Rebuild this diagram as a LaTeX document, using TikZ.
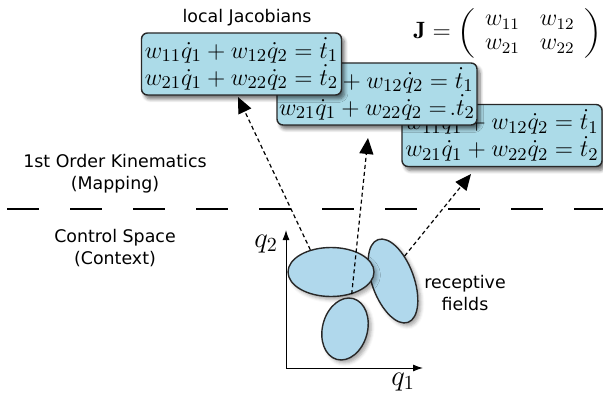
\documentclass[tikz,border=0pt]{standalone}
\usepackage{amsmath}
\usepackage{graphicx}
\usepackage{fontspec}
\setsansfont{DejaVu Sans}
\usepackage{xcolor}
\usepackage{tikz}
\usetikzlibrary{shapes.geometric,shadows.blur,arrows.meta}

\definecolor{boxblue}{RGB}{172,219,232}
\definecolor{fieldblue}{RGB}{176,216,236}
\definecolor{edgegray}{RGB}{40,40,40}

\newcommand{\flatparen}[1]{\vcenter{\hbox{\scalebox{1}[0.86]{$#1$}}}}

\tikzset{
    jacbox/.style={draw=edgegray, line width=0.7pt, fill=boxblue, rounded corners=3pt,
        blur shadow={shadow xshift=1.5pt, shadow yshift=-2pt, shadow blur steps=6, shadow opacity=55},
        minimum width=100pt, minimum height=31pt,
        inner sep=1pt, align=center, font=\fontsize{12.2}{12.5}\selectfont},
    field/.style={ellipse, draw=edgegray, line width=0.7pt, fill=fieldblue,
        blur shadow={shadow xshift=1.5pt, shadow yshift=-1.5pt, shadow opacity=35}, inner sep=0pt},
    txt/.style={font=\sffamily\fontsize{8.7}{11}\selectfont, align=center},
    mapline/.style={line width=0.6pt, dash pattern=on 2pt off 1.5pt,
        -{Triangle[length=8pt,width=7pt]}},
}

\begin{document}
\begin{tikzpicture}[x=0.5pt,y=-0.5pt]
    \useasboundingbox (0,0) rectangle (603,395);

    \node[txt] (jl) at (247,18) {local Jacobians};
    \node[font=\fontsize{11.8}{14}\selectfont] (jm) at (508,33)
        {$\renewcommand{\arraystretch}{0.85}\mathbf{J} = \mathopen{\flatparen{\biggl(}}\begin{array}{cc} w_{11} & w_{12}\\ w_{21} & w_{22}\end{array}\mathclose{\flatparen{\biggr)}}$};

    \node[jacbox] (b3) at (502,135.5) {$w_{11}\dot q_1 + w_{12}\dot q_2 = \dot t_1$\\$w_{21}\dot q_1 + w_{22}\dot q_2 = \dot t_2$};
    \node[jacbox] (b2) at (377,94) {$w_{11}\dot q_1 + w_{12}\dot q_2 = \dot t_1$\\$w_{21}\dot q_1 + w_{22}\dot q_2 =\!{.}\dot t_2$};
    \node[jacbox] (b1) at (241.5,64) {$w_{11}\dot q_1 + w_{12}\dot q_2 = \dot t_1$\\$w_{21}\dot q_1 + w_{22}\dot q_2 = \dot t_2$};

    \node[txt] (km) at (115,174) {1st Order Kinematics\\(Mapping)};
    \node[txt] (cs) at (115,248) {Control Space\\(Context)};
    \draw[line width=0.7pt, dash pattern=on 16pt off 15.5pt] (7,209) -- (603,209);

    % control space axes
    \coordinate (o) at (286,368);
    \coordinate (ytop) at (286,230);
    \coordinate (xend) at (423,368);
    \draw[line width=0.5pt, -{Latex[length=5pt,width=3.5pt]}] (o) -- (ytop);
    \draw[line width=0.5pt, -{Latex[length=5pt,width=3.5pt]}] (o) -- (xend);
    \node[font=\fontsize{14}{16}\selectfont] (q2) at (266,244) {$q_2$};
    \node[font=\fontsize{14}{16}\selectfont] (q1) at (403,382) {$q_1$};

    \node[field, minimum width=21pt, minimum height=44pt, rotate=20] (e3) at (393,281) {};
    \node[field, minimum width=43pt, minimum height=24.5pt] (e1) at (331,272) {};
    \node[field, minimum width=22.5pt, minimum height=31.5pt, rotate=-15] (e2) at (345,329) {};
    \node[txt] (rf) at (465,293) {receptive\\fields};

    \coordinate (t1) at (238,97);
    \coordinate (t2) at (368,138);
    \coordinate (t3) at (471,174);
    \draw[mapline] (e1.133) -- (t1);
    \draw[mapline] (e1.-47) -- (t2);
    \draw[mapline] (e3.45) -- (t3);
\end{tikzpicture}
\end{document}
